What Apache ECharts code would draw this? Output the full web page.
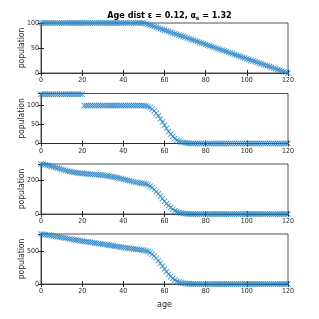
<!DOCTYPE html>
<html><head><meta charset="utf-8">
<script src="https://cdn.jsdelivr.net/npm/echarts@6/dist/echarts.min.js"></script>
<style>html,body{margin:0;padding:0;background:#fff}#c{width:319px;height:319px}</style>
</head><body><div id="c"></div>
<script>
const ages = Array.from({length:121},(_,i)=>i);
const xTicks = [0,20,40,60,80,100,120];
const pop1 = [100,100,100,100,100,100,100,100,100,100,100,100,100,100,100,100,100,100,100,100,100,100,100,100,100,100,100,100,100,100,100,100,100,100,100,100,100,100,100,100,100,100,100,100,100,100,100,100,100,100,100,
98.6,97.1,95.7,94.3,92.9,91.4,90.0,88.6,87.1,85.7,84.3,82.9,81.4,80.0,78.6,77.1,75.7,74.3,72.9,71.4,70.0,68.6,67.1,65.7,64.3,62.9,61.4,60.0,58.6,57.1,55.7,54.3,52.9,51.4,50.0,48.6,47.1,45.7,44.3,42.9,41.4,40.0,38.6,37.1,35.7,34.3,32.9,31.4,30.0,28.6,27.1,25.7,24.3,22.9,21.4,20.0,18.6,17.1,15.7,14.3,12.9,11.4,10.0,8.6,7.1,5.7,4.3,2.9,1.4,0];
const pop2 = [130,130,130,130,130,130,130,130,130,130,130,130,130,130,130,130,130,130,130,130,130,
100,100,100,100,100,100,100,100,100,100,100,100,100,100,100,100,100,100,100,100,100,100,100,100,100,100,100,100,100,100,
99,98,95,91,86,80,73,65,57,48,40,32,25,19,13,9,6,4,2.5,1.5,1,0.5,0.3,
0.2,0.1,0.1,0.1,0.1,0,0,0,0,0,0,0,0,0,0,0,0,0,0,0,0,0,0,0,0,0,0,0,0,0,0,0,0,0,0,0,0,0,0,0,0,0,0,0,0,0,0];
const pop3 = [296,294,292,289,286,283,279,276,272,269,265,262,258,255,252,249,247,245,243,241,240,239,238,237,236,235,234,233,232,231,230,228,226,224,222,220,217,215,212,209,206,203,200,197,194,191,188,186,184,182,180,
177,172,165,156,145,133,120,105,91,75,62,49,38,28,19,13,8.5,5.6,3.5,2,1.4,0.7,0.4,
0.2,0.1,0.1,0.1,0,0,0,0,0,0,0,0,0,0,0,0,0,0,0,0,0,0,0,0,0,0,0,0,0,0,0,0,0,0,0,0,0,0,0,0,0,0,0,0,0,0,0];
const pop4 = [755,750,745,740,735,730,725,719,714,709,704,698,693,687,682,676,670,665,659,654,648,643,639,634,630,625,620,616,611,607,602,597,592,587,582,577,571,566,561,556,551,547,543,539,535,531,526,522,518,514,510,
501,492,473,450,421,389,352,311,270,226,186,148,115,86,59,40,27,18,11,6,4,2,1,
0.5,0.3,0.2,0.1,0,0,0,0,0,0,0,0,0,0,0,0,0,0,0,0,0,0,0,0,0,0,0,0,0,0,0,0,0,0,0,0,0,0,0,0,0,0,0,0,0,0,0];
const series = [pop1,pop2,pop3,pop4];
const yMax = [100,132,296,755];
const yInterval = [50,50,200,500];
const yTicks = [[0,50,100],[0,50,100],[0,200],[0,500]];

const FONT = '"DejaVu Sans Condensed", "Liberation Sans", sans-serif';
const AX = '#262626';
const tops = [23,93.5,164,234];
const H = 50;
const chart = echarts.init(document.getElementById('c'));
const grid=[],xAxis=[],yAxis=[],ser=[];
const X = 'path://M0,1L1,0L5,4L9,0L10,1L6,5L10,9L9,10L5,6L1,10L0,9L4,5Z';
for(let i=0;i<4;i++){
  grid.push({left:41,right:31,top:tops[i],height:H,show:true,borderColor:AX,borderWidth:0.8,
    containLabel:false,outerBoundsMode:'none'});
  const lbl = {fontFamily:FONT,fontSize:7,color:AX,margin:4};
  xAxis.push({gridIndex:i,type:'value',min:0,max:120,interval:20,position:'bottom',
    axisLine:{lineStyle:{color:AX,width:0.8}},axisTick:{inside:true,length:3,lineStyle:{color:AX}},
    splitLine:{show:false},axisLabel:Object.assign({formatter:v=>xTicks.includes(v)?String(v):''},lbl),
    nameMoveOverlap:false,
    name:i===3?'age':'',nameLocation:'middle',nameGap:16,nameTextStyle:{fontFamily:FONT,fontSize:9,color:AX}});
  xAxis.push({gridIndex:i,type:'value',min:0,max:120,interval:20,position:'top',
    axisLine:{show:false},axisTick:{inside:true,length:3,lineStyle:{color:AX}},axisLabel:{show:false},splitLine:{show:false}});
  const yt = yTicks[i];
  yAxis.push({gridIndex:i,type:'value',min:0,max:yMax[i],interval:yInterval[i],position:'left',
    axisLine:{show:true,lineStyle:{color:AX,width:0.8}},axisTick:{show:true,inside:true,length:3,lineStyle:{color:AX}},
    splitLine:{show:false},nameMoveOverlap:false,
    axisLabel:Object.assign({showMaxLabel:yt.includes(yMax[i]),formatter:v=>yt.includes(v)?String(v):''},lbl,{margin:2}),
    name:'population',nameLocation:'middle',nameGap:15,nameTextStyle:{fontFamily:FONT,fontSize:8.5,color:AX}});
  yAxis.push({gridIndex:i,type:'value',min:0,max:yMax[i],interval:yInterval[i],position:'right',
    axisLine:{show:false},axisTick:{show:true,inside:true,length:3,lineStyle:{color:AX}},axisLabel:{show:false},splitLine:{show:false}});
  ser.push({type:'line',xAxisIndex:2*i,yAxisIndex:2*i,data:ages.map((a,j)=>[a,series[i][j]]),
    showSymbol:true,symbol:X,symbolSize:6,lineStyle:{width:0,opacity:0},
    itemStyle:{color:'#1f7fc4',opacity:0.85},animation:false,silent:true});
}
chart.setOption({
  animation:false,
  title:{left:164.5,top:5,textAlign:'center',
    text:'{b|Age dist ε = 0.12, α}{s|s}{b| = 1.32}',
    textStyle:{rich:{b:{fontFamily:FONT,fontSize:9,fontWeight:'bold',color:'#000'},
      s:{fontFamily:FONT,fontSize:6,fontWeight:'bold',color:'#000',padding:[5,0,0,0]}}}},
  grid,xAxis,yAxis,series:ser
});
</script></body></html>
